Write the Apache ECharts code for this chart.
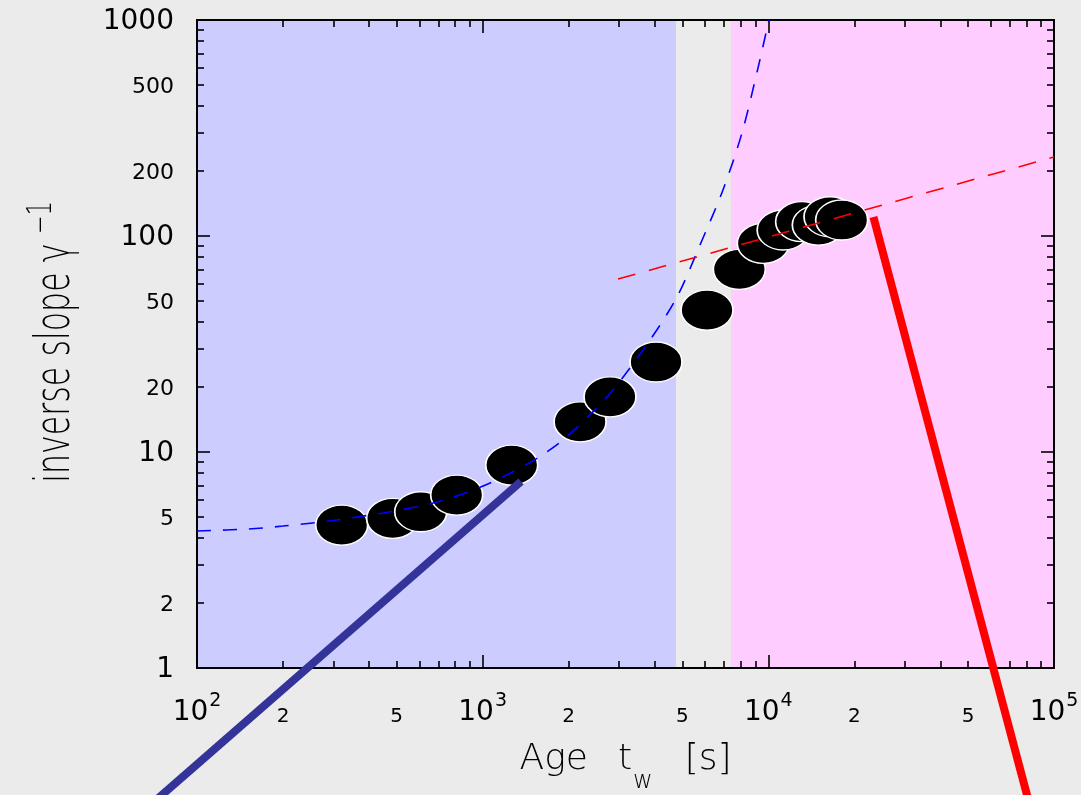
<!DOCTYPE html>
<html>
<head>
<meta charset="utf-8">
<script src="https://cdn.jsdelivr.net/npm/echarts@6/dist/echarts.min.js"></script>
<style>
  html, body { margin: 0; padding: 0; background: #ebebeb; }
  #main { width: 1081px; height: 795px; }
</style>
</head>
<body>
<div id="main"></div>
<script>
// measured points (age t_w in s, inverse slope)
var ageData = [321, 484, 607, 811, 1264, 2193, 2791, 4044, 6100, 7915, 9600, 11270, 13080, 14960, 16440, 18060];
var slopeData = [4.59, 4.93, 5.29, 6.32, 8.7, 13.8, 18.0, 26.1, 45.4, 70.1, 92.5, 106.6, 116.5, 112.4, 122.8, 118.6];

// blue dashed fit
var blueFitAge = [100, 151, 200, 299, 448, 589, 750, 979, 1247, 1550, 1896, 2337, 2858, 3791, 4789, 5765, 6937, 8085, 9201, 10045];
var blueFitSlope = [4.31, 4.40, 4.54, 4.82, 5.22, 5.58, 6.05, 6.86, 7.97, 9.35, 11.28, 14.57, 19.36, 31.96, 52.2, 90.9, 163.3, 299.9, 599.8, 1000];

// red dashed fit
var redFitAge = [2977, 100000];
var redFitSlope = [63.2, 232.1];

// thick guide lines (start, end)
var blueLineAge = [72, 1362];
var blueLineSlope = [0.245, 7.30];
var redLineAge = [23330, 81300];
var redLineSlope = [122.4, 0.245];

// shaded regions (age range)
var blueRegion = [100, 4750];
var pinkRegion = [7400, 100000];

// ticks and labels
var xMajorTicks = [100, 1000, 10000, 100000];
var xMinorTicks = [200, 300, 400, 500, 600, 700, 800, 900,
                   2000, 3000, 4000, 5000, 6000, 7000, 8000, 9000,
                   20000, 30000, 40000, 50000, 60000, 70000, 80000, 90000];
var xLabels = [100, 200, 500, 1000, 2000, 5000, 10000, 20000, 50000, 100000];
var yMajorTicks = [1, 10, 100, 1000];
var yMinorTicks = [2, 3, 4, 5, 6, 7, 8, 9,
                   20, 30, 40, 50, 60, 70, 80, 90,
                   200, 300, 400, 500, 600, 700, 800, 900];
var yLabels = [1, 2, 5, 10, 20, 50, 100, 200, 500, 1000];

var FONT = 'DejaVu Sans';

function pairs(xs, ys) {
	var out = [];
	for (var i = 0; i < xs.length; i++) out.push([xs[i], ys[i]]);
	return out;
}

function isDecade(v) {
	var e = Math.round(Math.log10(v));
	return Math.abs(v - Math.pow(10, e)) < 1e-6 * v;
}

var fmtX = function(v) {
	var e = Math.round(Math.log10(v));
	if (isDecade(v)) return '{b|10}{sup|' + e + '}';
	var m = Math.round(v / Math.pow(10, Math.floor(Math.log10(v) + 1e-9)));
	return '{s|' + m + '}';
};

var fmtY = function(v) {
	var r = Math.round(v);
	return isDecade(v) ? '{b|' + r + '}' : '{s|' + r + '}';
};

var tickLine = { color: '#000', width: 1.6 };

function xAxisDef(pos, ticks, len, showLine, labels) {
	return {
		type: 'log', logBase: 10, min: 100, max: 100000,
		position: pos, z: 3,
		splitLine: { show: false },
		axisLine: { show: showLine, onZero: false, lineStyle: { color: '#000', width: 2 } },
		axisTick: { show: true, inside: true, length: len, customValues: ticks, lineStyle: tickLine },
		axisLabel: labels ? {
			show: true, customValues: labels, margin: 24, formatter: fmtX,
			fontFamily: FONT, color: '#000',
			rich: {
				b: { fontSize: 28, fontFamily: FONT, color: '#000' },
				sup: { fontSize: 19, fontFamily: FONT, color: '#000', padding: [0, 0, 22, 1] },
				s: { fontSize: 20, fontFamily: FONT, color: '#000', padding: [15, 0, 0, 0] }
			}
		} : { show: false }
	};
}

function yAxisDef(pos, ticks, len, showLine, labels) {
	return {
		type: 'log', logBase: 10, min: 1, max: 1000,
		position: pos, z: 3,
		splitLine: { show: false },
		axisLine: { show: showLine, onZero: false, lineStyle: { color: '#000', width: 2 } },
		axisTick: { show: true, inside: true, length: len, customValues: ticks, lineStyle: tickLine },
		axisLabel: labels ? {
			show: true, customValues: labels, margin: 23, formatter: fmtY,
			fontFamily: FONT, color: '#000',
			rich: {
				b: { fontSize: 28, fontFamily: FONT, color: '#000', padding: [4, 0, 0, 0] },
				s: { fontSize: 22, fontFamily: FONT, color: '#000', padding: [4, 0, 0, 0] }
			}
		} : { show: false }
	};
}

var xAxes = [
	xAxisDef('bottom', xMajorTicks, 13, true, xLabels),
	xAxisDef('bottom', xMinorTicks, 7, false, null),
	xAxisDef('top', xMajorTicks, 13, true, null),
	xAxisDef('top', xMinorTicks, 7, false, null)
];
xAxes[0].name = '{a|Age}{g1| }{a|t}{w|w}{g2| }{a|[s]}';
xAxes[0].nameLocation = 'middle';
xAxes[0].nameGap = 58;
xAxes[0].nameTextStyle = {
	fontFamily: FONT, color: '#000',
	rich: {
		a: { fontSize: 36, fontFamily: FONT, fontWeight: 200, color: '#000' },
		w: { fontSize: 24, fontFamily: FONT, fontWeight: 200, color: '#000', padding: [44, 0, 0, 1] },
		g1: { width: 30, fontSize: 10 },
		g2: { width: 32, fontSize: 10 }
	}
};

var yAxes = [
	yAxisDef('left', yMajorTicks, 13, true, yLabels),
	yAxisDef('left', yMinorTicks, 7, false, null),
	yAxisDef('right', yMajorTicks, 13, true, null),
	yAxisDef('right', yMinorTicks, 7, false, null)
];

// straight segment drawn through the axes' own coordinate mapping
var segment = function(color) {
	return function(params, api) {
		var a = api.coord([api.value(0), api.value(1)]);
		var b = api.coord([api.value(2), api.value(3)]);
		return {
			type: 'line',
			shape: { x1: a[0], y1: a[1], x2: b[0], y2: b[1] },
			style: { stroke: color, lineWidth: 8, lineCap: 'butt' }
		};
	};
};

var chart = echarts.init(document.getElementById('main'));

var option = {
	backgroundColor: '#ebebeb',
	animation: false,
	grid: { left: 197, right: 27, top: 20, bottom: 127, outerBoundsMode: 'none', containLabel: false },
	xAxis: xAxes,
	yAxis: yAxes,
	graphic: [{
		type: 'text',
		x: 57, y: 342,
		rotation: Math.PI / 2,
		scaleX: 0.66,
		style: {
			text: '{m|inverse slope γ}{sup|−1}',
			align: 'center',
			verticalAlign: 'middle',
			fill: '#000',
			rich: {
				m: { fontSize: 48, fontFamily: FONT, fontWeight: 200, fill: '#000' },
				sup: { fontSize: 34, fontFamily: FONT, fontWeight: 200, fill: '#000', padding: [0, 0, 30, 14] }
			}
		}
	}],
	series: [
		{
			name: 'regions',
			type: 'line',
			data: [],
			z: 1,
			markArea: {
				silent: true,
				data: [
					[{ xAxis: blueRegion[0], yAxis: 1, itemStyle: { color: '#ccccff' } }, { xAxis: blueRegion[1], yAxis: 1000 }],
					[{ xAxis: pinkRegion[0], yAxis: 1, itemStyle: { color: '#ffccff' } }, { xAxis: pinkRegion[1], yAxis: 1000 }]
				]
			}
		},
		{
			name: 'data',
			type: 'scatter',
			z: 4,
			symbol: 'circle',
			symbolSize: [52, 40],
			itemStyle: { color: '#000', borderColor: '#fff', borderWidth: 1.5, opacity: 1 },
			data: pairs(ageData, slopeData)
		},
		{
			name: 'blue fit',
			type: 'line',
			z: 5,
			symbol: 'none',
			smooth: 0.3,
			lineStyle: { color: '#0000ff', width: 1.6, type: [14, 12] },
			data: pairs(blueFitAge, blueFitSlope)
		},
		{
			name: 'red fit',
			type: 'line',
			z: 5,
			symbol: 'none',
			lineStyle: { color: '#ff0000', width: 1.6, type: [18, 14] },
			data: pairs(redFitAge, redFitSlope)
		},
		{
			name: 'blue guide',
			type: 'custom',
			z: 6,
			clip: false,
			encode: { x: [0, 2], y: [1, 3] },
			renderItem: segment('#333399'),
			data: [[blueLineAge[0], blueLineSlope[0], blueLineAge[1], blueLineSlope[1]]]
		},
		{
			name: 'red guide',
			type: 'custom',
			z: 6,
			clip: false,
			encode: { x: [0, 2], y: [1, 3] },
			renderItem: segment('#ff0000'),
			data: [[redLineAge[0], redLineSlope[0], redLineAge[1], redLineSlope[1]]]
		}
	]
};

chart.setOption(option);
</script>
</body>
</html>
